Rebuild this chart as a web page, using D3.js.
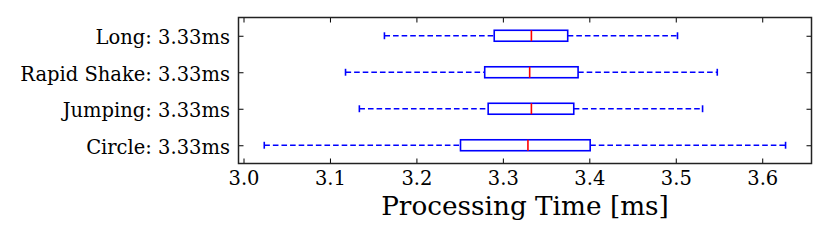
<!DOCTYPE html>
<html>
<head>
<meta charset="utf-8">
<script src="https://d3js.org/d3.v7.min.js"></script>
<style>
	body { margin: 0; background: #fff; }
	svg { display: block; }
</style>
</head>
<body>
<div id="chart"></div>
<script>
"use strict"

// data, bottom row first (as drawn by positions 1..4)
var categories = ["Circle: 3.33ms", "Jumping: 3.33ms", "Rapid Shake: 3.33ms", "Long: 3.33ms"];
var whiskerLow  = [3.024, 3.134, 3.118, 3.163];
var quartile1   = [3.251, 3.283, 3.279, 3.290];
var medians     = [3.329, 3.333, 3.331, 3.333];
var quartile3   = [3.401, 3.382, 3.387, 3.375];
var whiskerHigh = [3.627, 3.531, 3.548, 3.502];
var xTicks = [3.0, 3.1, 3.2, 3.3, 3.4, 3.5, 3.6];

var W = 830, H = 241;
var pLeft = 238.5, pRight = 811.5, pTop = 17.5, pBottom = 163.5;
var sFont = "'DejaVu Serif', serif";

var svg = d3.select("#chart").append("svg")
	.attr("width", W)
	.attr("height", H)
	;

var x = d3.scaleLinear().domain([2.9942, 3.657]).range([pLeft, pRight]);
var y = d3.scaleLinear().domain([0.5, 4.5]).range([pBottom, pTop]);

var rows = categories.map(function(c, i) {
	return {name: c, pos: i + 1, lo: whiskerLow[i], q1: quartile1[i], med: medians[i], q3: quartile3[i], hi: whiskerHigh[i]};
});

var boxH = 0.3, capH = 0.19;
var blue = "#0000ff", red = "#ff0000";
var lw = 1.6;

var g = svg.append("g");

// whiskers
g.selectAll("line.wlo").data(rows).enter().append("line")
	.attr("x1", function(d) { return x(d.lo); })
	.attr("x2", function(d) { return x(d.q1); })
	.attr("y1", function(d) { return y(d.pos); })
	.attr("y2", function(d) { return y(d.pos); })
	.attr("stroke", blue).attr("stroke-width", lw)
	.attr("stroke-dasharray", "5.6,3")
	;
g.selectAll("line.whi").data(rows).enter().append("line")
	.attr("x1", function(d) { return x(d.q3); })
	.attr("x2", function(d) { return x(d.hi); })
	.attr("y1", function(d) { return y(d.pos); })
	.attr("y2", function(d) { return y(d.pos); })
	.attr("stroke", blue).attr("stroke-width", lw)
	.attr("stroke-dasharray", "5.6,3")
	;
// caps
["lo", "hi"].forEach(function(k) {
	g.selectAll("line.cap" + k).data(rows).enter().append("line")
		.attr("x1", function(d) { return x(d[k]); })
		.attr("x2", function(d) { return x(d[k]); })
		.attr("y1", function(d) { return y(d.pos - capH / 2); })
		.attr("y2", function(d) { return y(d.pos + capH / 2); })
		.attr("stroke", blue).attr("stroke-width", lw)
		;
});
// boxes
g.selectAll("rect.box").data(rows).enter().append("rect")
	.attr("x", function(d) { return x(d.q1); })
	.attr("width", function(d) { return x(d.q3) - x(d.q1); })
	.attr("y", function(d) { return y(d.pos + boxH / 2); })
	.attr("height", function(d) { return y(d.pos - boxH / 2) - y(d.pos + boxH / 2); })
	.attr("fill", "none").attr("stroke", blue).attr("stroke-width", lw)
	;
// medians
g.selectAll("line.med").data(rows).enter().append("line")
	.attr("x1", function(d) { return x(d.med); })
	.attr("x2", function(d) { return x(d.med); })
	.attr("y1", function(d) { return y(d.pos + boxH / 2); })
	.attr("y2", function(d) { return y(d.pos - boxH / 2); })
	.attr("stroke", red).attr("stroke-width", lw)
	;

// axes, ticks pointing inward on all four sides
var tickLen = 5;
var xb = svg.append("g").attr("transform", "translate(0," + pBottom + ")")
	.call(d3.axisBottom(x).tickValues(xTicks).tickFormat(d3.format(".1f")).tickSizeInner(-tickLen).tickSizeOuter(0).tickPadding(7.5));
var xt = svg.append("g").attr("transform", "translate(0," + pTop + ")")
	.call(d3.axisTop(x).tickValues(xTicks).tickFormat("").tickSizeInner(-tickLen).tickSizeOuter(0));
var yl = svg.append("g").attr("transform", "translate(" + pLeft + ",0)")
	.call(d3.axisLeft(y).tickValues([1, 2, 3, 4]).tickFormat(function(d) { return categories[d - 1]; }).tickSizeInner(-tickLen).tickSizeOuter(0).tickPadding(8.5));
var yr = svg.append("g").attr("transform", "translate(" + pRight + ",0)")
	.call(d3.axisRight(y).tickValues([1, 2, 3, 4]).tickFormat("").tickSizeInner(-tickLen).tickSizeOuter(0));

[xb, xt, yl, yr].forEach(function(a) {
	a.select(".domain").remove();
	a.selectAll(".tick line").attr("stroke", "#000").attr("stroke-width", 1);
	a.selectAll(".tick text").attr("fill", "#000").style("font-family", sFont).style("font-size", "19.5px");
});
yl.selectAll(".tick text").attr("dy", "0.42em");

// frame
svg.append("rect")
	.attr("x", pLeft).attr("y", pTop)
	.attr("width", pRight - pLeft).attr("height", pBottom - pTop)
	.attr("fill", "none").attr("stroke", "#222").attr("stroke-width", 1.5)
	;

svg.append("text")
	.attr("x", (pLeft + pRight) / 2)
	.attr("y", 215)
	.attr("text-anchor", "middle")
	.style("font-family", sFont)
	.style("font-size", "26.3px")
	.attr("fill", "#000")
	.text("Processing Time [ms]")
	;
</script>
</body>
</html>
